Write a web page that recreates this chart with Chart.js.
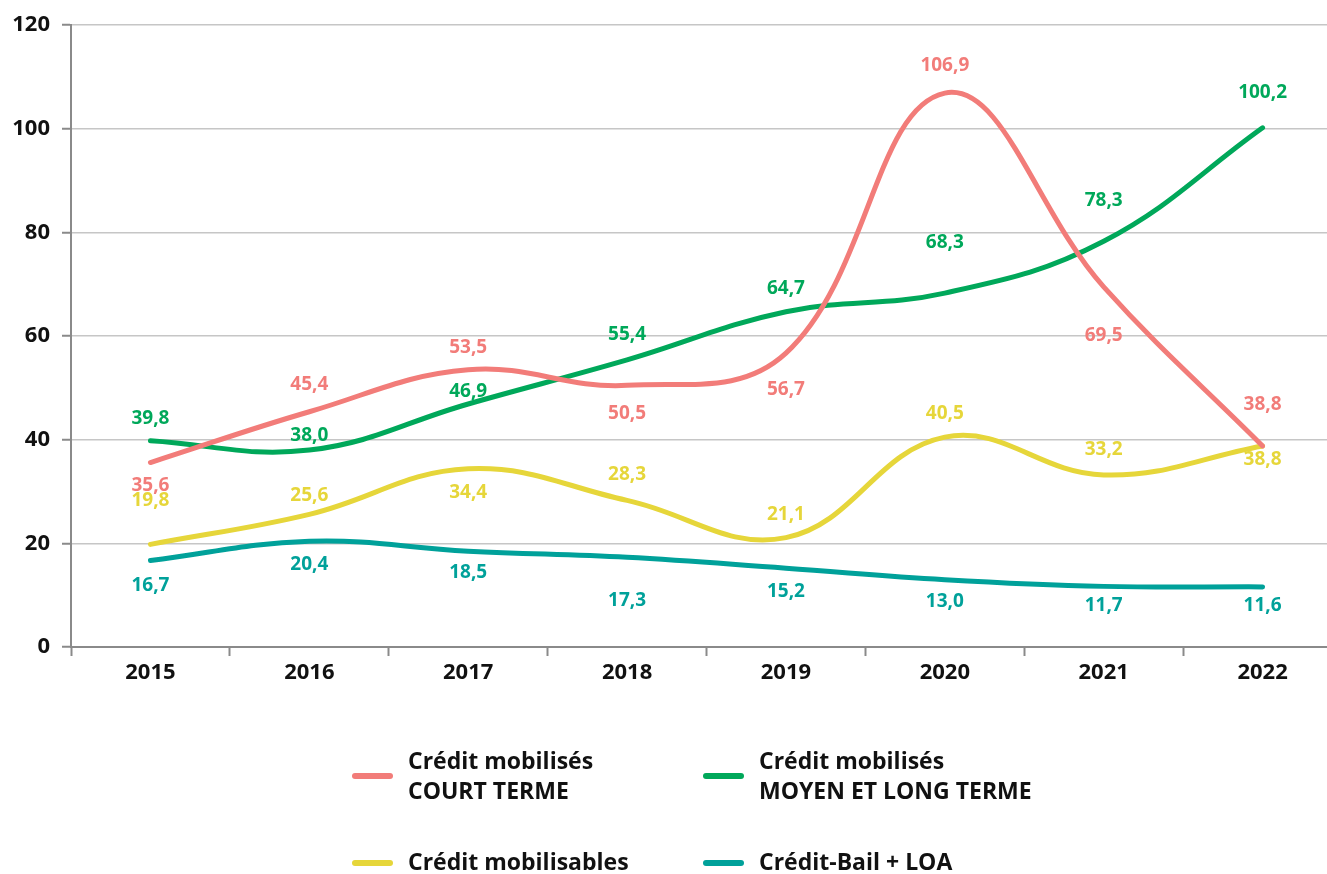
<!DOCTYPE html>
<html>
<head>
<meta charset="utf-8">
<script src="https://cdn.jsdelivr.net/npm/chart.js@4"></script>
<style>
  html, body { margin: 0; padding: 0; background: #fff; overflow: hidden; }
  #wrap { width: 1345px; height: 874px; }
</style>
</head>
<body>
<div id="wrap"><canvas id="chart" width="1345" height="874"></canvas></div>
<script>
// --- DATA ---
const years = ['2015', '2016', '2017', '2018', '2019', '2020', '2021', '2022'];
const courtTerme = [35.6, 45.4, 53.5, 50.5, 56.7, 106.9, 69.5, 38.8];
const moyenLongTerme = [39.8, 38.0, 46.9, 55.4, 64.7, 68.3, 78.3, 100.2];
const mobilisables = [19.8, 25.6, 34.4, 28.3, 21.1, 40.5, 33.2, 38.8];
const creditBail = [16.7, 20.4, 18.5, 17.3, 15.2, 13.0, 11.7, 11.6];
const yTicks = [0, 20, 40, 60, 80, 100, 120];

// label vertical offsets (px) relative to each point
const courtDy = [23, -27, -22, 28, 36, -27, 49, -41];
const moyenDy = [-22, -15, -12, -25, -23, -50, -41, -35];
const mobilisablesDy = [-44, -19, 24, -26, -23, -24, -25, 14];
const bailDy = [25, 23, 21, 43, 23, 22, 19, 19];

const FONT = '"Open Sans", "Noto Sans", sans-serif';

const valueLabels = {
    id: 'valueLabels',
    afterDatasetsDraw(chart) {
        const ctx = chart.ctx;
        ctx.save();
        ctx.font = '700 19px ' + FONT;
        ctx.textAlign = 'center';
        ctx.textBaseline = 'middle';
        chart.data.datasets.forEach((ds, di) => {
            const meta = chart.getDatasetMeta(di);
            ctx.fillStyle = ds.borderColor;
            meta.data.forEach((pt, i) => {
                const txt = ds.data[i].toFixed(1).replace('.', ',');
                ctx.fillText(txt, pt.x, pt.y + ds.labelDy[i]);
            });
        });
        ctx.restore();
    }
};

const legendItems = [
    { color: '#F27C79', lines: ['Crédit mobilisés', 'COURT TERME'], x: 352, y: 776 },
    { color: '#00A85A', lines: ['Crédit mobilisés', 'MOYEN ET LONG TERME'], x: 703, y: 776 },
    { color: '#E6D63A', lines: ['Crédit mobilisables'], x: 352, y: 863 },
    { color: '#00A19A', lines: ['Crédit-Bail + LOA'], x: 703, y: 863 }
];

const customLegend = {
    id: 'customLegend',
    afterDraw(chart) {
        const ctx = chart.ctx;
        ctx.save();
        legendItems.forEach(item => {
            ctx.strokeStyle = item.color;
            ctx.lineWidth = 6;
            ctx.lineCap = 'round';
            ctx.beginPath();
            ctx.moveTo(item.x + 3, item.y);
            ctx.lineTo(item.x + 38, item.y);
            ctx.stroke();
            ctx.fillStyle = '#111';
            ctx.font = '700 23px ' + FONT;
            ctx.textAlign = 'left';
            ctx.textBaseline = 'middle';
            if (item.lines.length === 2) {
                ctx.fillText(item.lines[0], item.x + 56, item.y - 14);
                ctx.fillText(item.lines[1], item.x + 56, item.y + 16);
            } else {
                ctx.fillText(item.lines[0], item.x + 56, item.y);
            }
        });
        ctx.restore();
    }
};

function makeSet(label, data, color, dy) {
    return {
        label: label,
        data: data,
        borderColor: color,
        backgroundColor: color,
        borderWidth: 5,
        borderCapStyle: 'round',
        tension: 0.4,
        pointRadius: 0,
        fill: false,
        labelDy: dy
    };
}

new Chart(document.getElementById('chart'), {
    type: 'line',
    data: {
        labels: years,
        datasets: [
            makeSet('Crédit mobilisés COURT TERME', courtTerme, '#F27C79', courtDy),
            makeSet('Crédit mobilisés MOYEN ET LONG TERME', moyenLongTerme, '#00A85A', moyenDy),
            makeSet('Crédit mobilisables', mobilisables, '#E6D63A', mobilisablesDy),
            makeSet('Crédit-Bail + LOA', creditBail, '#00A19A', bailDy)
        ]
    },
    options: {
        responsive: false,
        animation: false,
        layout: { padding: { top: 20, right: 3, left: 0, bottom: 0 } },
        plugins: { legend: { display: false }, tooltip: { enabled: false } },
        scales: {
            x: {
                offset: true,
                afterFit: s => { s.height = 227; },
                grid: { drawOnChartArea: false, drawTicks: true, tickLength: 9, tickColor: '#8a8a8a', tickWidth: 2, offset: true },
                border: { color: '#8a8a8a', width: 2 },
                ticks: { color: '#111', font: { family: FONT, size: 22, weight: '700' }, padding: 4 }
            },
            y: {
                min: 0,
                max: 120,
                afterFit: s => { s.width = 71; },
                afterBuildTicks: s => { s.ticks = yTicks.map(v => ({ value: v })); },
                grid: { color: '#c6c6c6', lineWidth: 1.5, drawTicks: true, tickLength: 9, tickColor: '#8a8a8a', tickWidth: 2 },
                border: { color: '#8a8a8a', width: 2 },
                ticks: { color: '#111', font: { family: FONT, size: 22, weight: '700' }, padding: 12 }
            }
        }
    },
    plugins: [valueLabels, customLegend]
});
</script>
</body>
</html>
